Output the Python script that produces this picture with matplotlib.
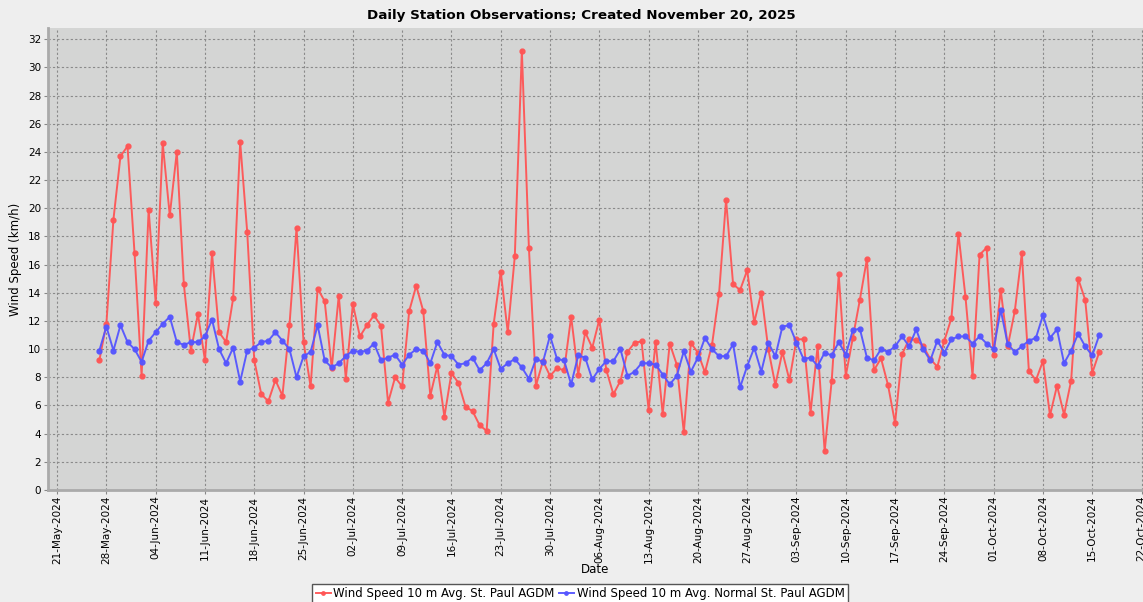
import matplotlib
matplotlib.use("Agg")
import matplotlib.pyplot as plt
import matplotlib.dates as mdates
import pandas as pd

# daily values, 27-May-2024 .. 16-Oct-2024
dates = pd.date_range("2024-05-27", "2024-10-16", freq="D")

wind_obs = [
    # May 27-31
    9.2, 11.8, 19.2, 23.7, 24.4,
    # Jun
    16.8, 8.1, 19.9, 13.3, 24.6, 19.5, 24.0, 14.6, 9.9, 12.5,
    9.2, 16.8, 11.2, 10.5, 13.6, 24.7, 18.3, 9.2, 6.8, 6.3,
    7.8, 6.7, 11.7, 18.6, 10.5, 7.35, 14.3, 13.4, 8.65, 13.8,
    # Jul
    7.9, 13.2, 10.9, 11.7, 12.4, 11.65, 6.2, 8.0, 7.35, 12.7,
    14.5, 12.7, 6.7, 8.8, 5.2, 8.3, 7.6, 5.9, 5.6, 4.6,
    4.2, 11.8, 15.5, 11.2, 16.6, 31.2, 17.2, 7.4, 9.15, 8.1, 8.65,
    # Aug
    8.5, 12.3, 8.2, 11.2, 10.1, 12.1, 8.5, 6.8, 7.75, 9.8,
    10.45, 10.55, 5.7, 10.5, 5.4, 10.4, 8.9, 4.1, 10.45, 9.75,
    8.35, 10.3, 13.9, 20.6, 14.6, 14.2, 15.6, 11.9, 14.0, 10.0, 7.45,
    # Sep
    9.8, 7.8, 10.7, 10.7, 5.5, 10.2, 2.75, 7.75, 15.3, 8.1,
    10.8, 13.5, 16.4, 8.5, 9.35, 7.45, 4.75, 9.65, 10.7, 10.65,
    10.2, 9.3, 8.75, 10.6, 12.2, 18.2, 13.7, 8.1, 16.7, 17.2,
    # Oct 1-16
    9.55, 14.2, 10.2, 12.7, 16.8, 8.45, 7.8, 9.15, 5.3, 7.4,
    5.35, 7.75, 15.0, 13.5, 8.3, 9.8,
]

wind_normal = [
    9.9, 11.6, 9.9, 11.7, 10.5,
    10.0, 9.1, 10.6, 11.2, 11.8, 12.3, 10.5, 10.3, 10.5, 10.5,
    10.9, 12.1, 10.0, 9.0, 10.1, 7.7, 9.9, 10.1, 10.5, 10.6,
    11.2, 10.6, 10.0, 8.0, 9.5, 9.8, 11.7, 9.2, 8.7, 9.0,
    9.5, 9.9, 9.8, 9.9, 10.4, 9.2, 9.4, 9.6, 8.9, 9.6,
    10.0, 9.9, 9.0, 10.5, 9.6, 9.5, 8.9, 9.0, 9.4, 8.5,
    9.0, 10.0, 8.6, 9.0, 9.3, 8.7, 7.9, 9.3, 9.1, 10.95, 9.3,
    9.2, 7.5, 9.55, 9.4, 7.85, 8.6, 9.15, 9.15, 10.0, 8.1,
    8.4, 9.0, 9.0, 8.9, 8.2, 7.5, 8.1, 9.85, 8.4, 9.4,
    10.8, 10.0, 9.5, 9.5, 10.35, 7.3, 8.8, 10.1, 8.4, 10.45, 9.5,
    11.6, 11.7, 10.45, 9.3, 9.4, 8.8, 9.75, 9.55, 10.5, 9.6,
    11.35, 11.45, 9.4, 9.2, 10.0, 9.8, 10.2, 10.9, 10.2, 11.4,
    10.0, 9.2, 10.6, 9.75, 10.7, 10.9, 10.9, 10.4, 10.9, 10.4,
    10.0, 12.8, 10.35, 9.8, 10.2, 10.6, 10.8, 12.4, 10.8, 11.4,
    9.0, 9.9, 11.1, 10.2, 9.55, 11.0,
]

series_names = ["Wind Speed 10 m Avg. St. Paul AGDM",
                "Wind Speed 10 m Avg. Normal St. Paul AGDM"]
tick_dates = pd.date_range("2024-05-21", "2024-10-22", freq="7D")

fig = plt.figure(figsize=(11.43, 6.02), dpi=100, facecolor="#eeeeee")
ax = fig.add_axes([48 / 1143, 1 - 490 / 602, 1 - 48 / 1143, (490 - 28) / 602])
ax.set_facecolor("#d4d5d4")

ax.plot(dates, wind_obs, color="#ff5555", lw=1.4, marker="o", ms=3.5,
        alpha=0.95, label=series_names[0], zorder=3)
ax.plot(dates, wind_normal, color="#5555ff", lw=1.4, marker="o", ms=3.5,
        alpha=0.95, label=series_names[1], zorder=3)

ax.set_xlim(pd.Timestamp("2024-05-19 17:00"), pd.Timestamp("2024-10-22 05:00"))
ax.set_ylim(0, 32.8)
ax.set_yticks(range(0, 33, 2))
ax.set_xticks(tick_dates)
ax.xaxis.set_major_formatter(mdates.DateFormatter("%d-%b-%Y"))
ax.tick_params(axis="x", labelrotation=90, labelsize=7.5, length=3, pad=1, color="#888888")
ax.tick_params(axis="y", labelsize=7.5, length=3, pad=2, color="#888888")

ax.grid(True, color="#8a8a8a", linestyle=(0, (2, 2)), linewidth=0.8)
for side in ["top", "right"]:
    ax.spines[side].set_visible(False)
ax.spines["left"].set_color("#aaaaaa")
ax.spines["bottom"].set_color("#aaaaaa")
ax.spines["left"].set_linewidth(2)
ax.spines["bottom"].set_linewidth(2)

ax.set_xlabel("Date", fontsize=8.5, labelpad=-1)
ax.set_ylabel("Wind Speed (km/h)", fontsize=8.5, labelpad=4)
fig.text(581 / 1143, 1 - 15 / 602, "Daily Station Observations; Created November 20, 2025",
         ha="center", va="center", fontsize=9.7, fontweight="bold")

leg = fig.legend(loc="upper center", bbox_to_anchor=(580 / 1143, 1 - 578 / 602),
                 ncol=2, fontsize=8.5, frameon=True, fancybox=False,
                 edgecolor="#555555", framealpha=1, borderpad=0.3,
                 handlelength=1.3, handletextpad=0.2, columnspacing=0.35,
                 markerscale=0.7)
leg.get_frame().set_linewidth(1)

fig.savefig("out.png", dpi=100, facecolor=fig.get_facecolor())
